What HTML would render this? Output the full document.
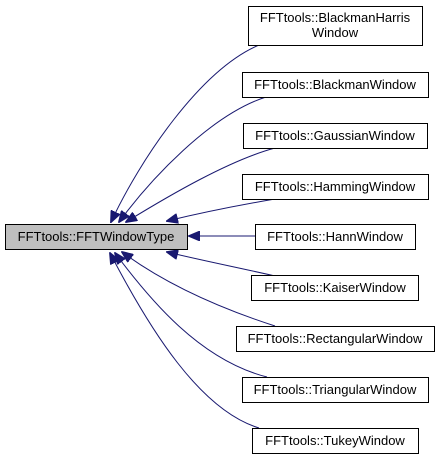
<!DOCTYPE html>
<html><head><style>body{margin:0;background:#fff}svg text{font-family:"Liberation Sans",Arial,sans-serif;font-size:13px;fill:#000}</style></head>
<body><svg width="440" height="458" viewBox="0 0 440 458" xmlns="http://www.w3.org/2000/svg">
<defs><marker id="a" markerWidth="12" markerHeight="10" refX="11" refY="5" orient="auto" markerUnits="userSpaceOnUse"><path d="M0,0 L12,5 L0,10 Z" fill="#191970" stroke="#191970"/></marker></defs>
<g fill="none" stroke="#191970" stroke-width="1">
<path d="M259,45 C200,70 140,160 111,222" marker-end="url(#a)"/>
<path d="M266,97 C210,115 150,180 119,222" marker-end="url(#a)"/>
<path d="M275,148 C230,160 170,195 126,222" marker-end="url(#a)"/>
<path d="M275,199 C240,205 200,213 167,221" marker-end="url(#a)"/>
<path d="M255,236 L189,236" marker-end="url(#a)"/>
<path d="M275,276 C240,268 200,260 167,252" marker-end="url(#a)"/>
<path d="M275,326 C210,305 160,280 122,252" marker-end="url(#a)"/>
<path d="M267,377 C200,360 150,300 115,253" marker-end="url(#a)"/>
<path d="M259,428 C200,410 150,330 110,253" marker-end="url(#a)"/>
</g>
<g stroke="#000" stroke-width="1">
<rect x="5.5" y="224.5" width="182" height="25" fill="#bfbfbf"/>
<rect x="248.5" y="6.5" width="174" height="39" fill="#fff"/>
<rect x="242.5" y="72.5" width="186" height="25" fill="#fff"/>
<rect x="243.5" y="123.5" width="184" height="25" fill="#fff"/>
<rect x="242.5" y="174.5" width="186" height="25" fill="#fff"/>
<rect x="255.5" y="224.5" width="160" height="25" fill="#fff"/>
<rect x="251.5" y="275.5" width="167" height="25" fill="#fff"/>
<rect x="236.5" y="326.5" width="198" height="25" fill="#fff"/>
<rect x="242.5" y="377.5" width="186" height="25" fill="#fff"/>
<rect x="252.5" y="428.5" width="166" height="25" fill="#fff"/>
</g>
<g text-anchor="middle">
<text x="96" y="241">FFTtools::FFTWindowType</text>
<text x="335" y="22">FFTtools::BlackmanHarris</text>
<text x="335" y="37">Window</text>
<text x="335" y="89">FFTtools::BlackmanWindow</text>
<text x="335" y="140">FFTtools::GaussianWindow</text>
<text x="335" y="191">FFTtools::HammingWindow</text>
<text x="335" y="241">FFTtools::HannWindow</text>
<text x="335" y="292">FFTtools::KaiserWindow</text>
<text x="335" y="343">FFTtools::RectangularWindow</text>
<text x="335" y="394">FFTtools::TriangularWindow</text>
<text x="335" y="445">FFTtools::TukeyWindow</text>
</g>
</svg></body></html>
